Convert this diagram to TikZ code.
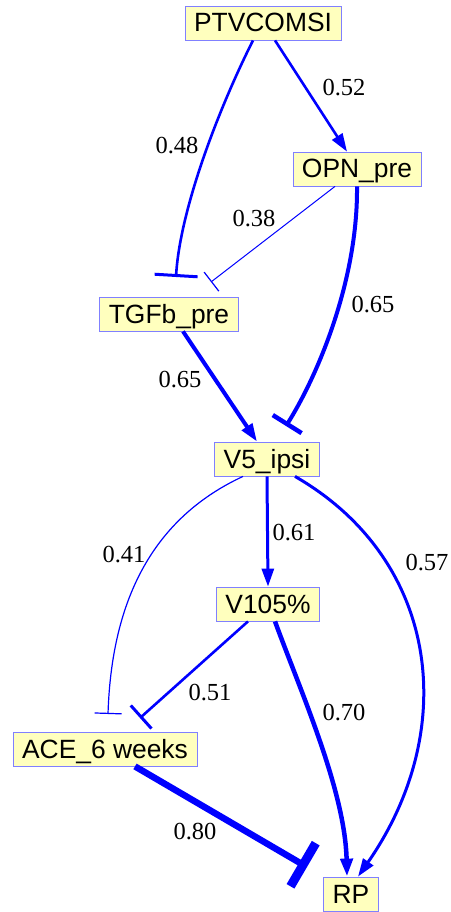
\documentclass[tikz,border=0pt]{standalone}
\usepackage{fontspec}
\setmainfont{Liberation Serif}
\newfontfamily\nodefont{Liberation Sans}
\usetikzlibrary{arrows.meta}
\definecolor{boxfill}{RGB}{255,255,190}
\definecolor{boxdraw}{RGB}{128,128,255}
\definecolor{edgeblue}{RGB}{0,0,255}
\begin{document}
\begin{tikzpicture}[x=1pt,y=-1pt,
  box/.style={draw=boxdraw, fill=boxfill, line width=0.8pt, inner xsep=9pt, inner ysep=2pt,
    text height=24pt, text depth=6pt, minimum height=34pt,
    font=\nodefont\fontsize{26.4pt}{30pt}\selectfont},
  lbl/.style={font=\fontsize{24.5pt}{28pt}\selectfont, inner sep=0pt},
  edg/.style={draw=edgeblue, line cap=butt},
  arr/.style={-{Triangle[length=18pt,width=12pt]}},
]
\useasboundingbox (0,0) rectangle (450,912);

\node[box] (P) at (263,23) {PTVCOMSI};
\node[box] (O) at (357,169) {OPN\_pre};
\node[box] (T) at (169,314) {TGFb\_pre};
\node[box] (V5) at (267,459) {V5\_ipsi};
\node[box] (V105) at (268,604) {V105\%};
\node[box] (A) at (105,749) {ACE\_6 weeks};
\node[box] (RP) at (351,894) {RP};

\coordinate (t48) at (176,277);
\coordinate (t38) at (211,282);
\coordinate (t65) at (286,426);
\coordinate (t41) at (108,714);
\coordinate (t51) at (140,718);
\coordinate (t80) at (307,867);

% PTVCOMSI -> OPN_pre
\draw[edg, line width=2.6pt, arr] ([xshift=12pt]P.south) -- ([xshift=-10pt]O.north);
% PTVCOMSI -| TGFb_pre
\draw[edg, line width=2.6pt, -{Bar[width=43pt,line width=3pt]}] ([xshift=-10pt]P.south) .. controls (218,110) and (180,210) .. (t48);
% OPN_pre -| TGFb_pre
\draw[edg, line width=1pt, -{Bar[width=24pt,line width=1.2pt]}] ([xshift=-22pt]O.south) -- (t38);
% OPN_pre -| V5_ipsi
\draw[edg, line width=4pt, -{Bar[width=34pt,line width=4.5pt]}] (O.south) .. controls (358,280) and (318,375) .. (t65);
% TGFb_pre -> V5_ipsi
\draw[edg, line width=4pt, arr] ([xshift=14pt]T.south) -- ([xshift=-10pt]V5.north);
% V5_ipsi -> V105%
\draw[edg, line width=3pt, arr] (V5.south) -- (V105.north);
% V5_ipsi -| ACE
\draw[edg, line width=1.2pt, -{Bar[width=27pt,line width=1.2pt]}] ([xshift=-24pt]V5.south) .. controls (160,515) and (112,590) .. (t41);
% V5_ipsi -> RP
\draw[edg, line width=3pt, arr] ([xshift=28pt]V5.south) .. controls (440,560) and (460,730) .. ([xshift=7pt]RP.north);
% V105% -| ACE
\draw[edg, line width=2.6pt, -{Bar[width=31pt,line width=3pt]}] ([xshift=-20pt]V105.south) -- (t51);
% V105% -> RP
\draw[edg, line width=4.5pt, arr] ([xshift=7pt]V105.south) .. controls (300,690) and (345,790) .. ([xshift=-4pt]RP.north);
% ACE -| RP
\draw[edg, line width=6.5pt, -{Bar[width=50pt,line width=9pt]}] ([xshift=30pt]A.south) -- (t80);

\node[lbl] (l52) at (344,88) {0.52};
\node[lbl] (l48) at (177,146) {0.48};
\node[lbl] (l38) at (254,219) {0.38};
\node[lbl] (l65a) at (373,305) {0.65};
\node[lbl] (l65b) at (180,380) {0.65};
\node[lbl] (l61) at (294,533) {0.61};
\node[lbl] (l41) at (124,555) {0.41};
\node[lbl] (l57) at (427,563) {0.57};
\node[lbl] (l51) at (210,693) {0.51};
\node[lbl] (l70) at (344,713) {0.70};
\node[lbl] (l80) at (195,832) {0.80};
\end{tikzpicture}
\end{document}
